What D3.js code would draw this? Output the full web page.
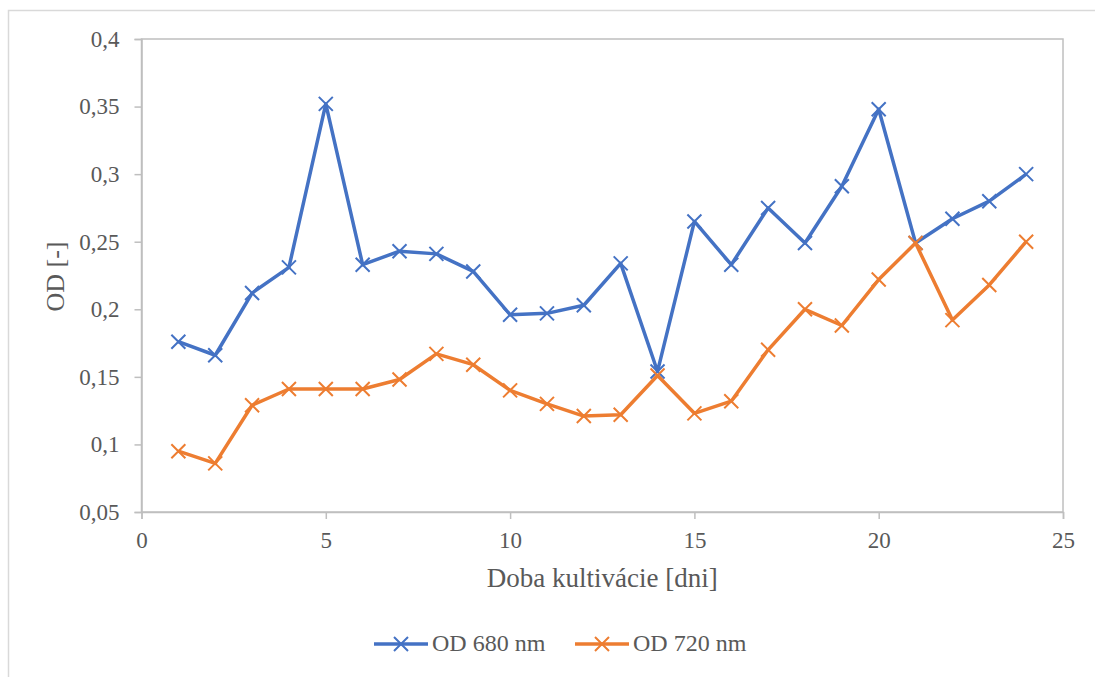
<!DOCTYPE html>
<html>
<head>
<meta charset="utf-8">
<script src="https://cdn.jsdelivr.net/npm/d3@7"></script>
<style>
  body { margin: 0; background: #fff; }
  svg text { fill: #595959; }
</style>
</head>
<body>
<div id="container"></div>
<script>
/* DATA */
const days = d3.range(1, 25)
const od680 = [0.176, 0.166, 0.212, 0.231, 0.352, 0.233, 0.243, 0.241, 0.228, 0.196, 0.197, 0.203,
  0.234, 0.154, 0.265, 0.233, 0.275, 0.249, 0.291, 0.348, 0.249, 0.267, 0.280, 0.300]
const od720 = [0.095, 0.086, 0.129, 0.141, 0.141, 0.141, 0.148, 0.167, 0.159, 0.140, 0.130, 0.121,
  0.122, 0.151, 0.123, 0.132, 0.170, 0.200, 0.188, 0.222, 0.249, 0.192, 0.218, 0.250]
const seriesNames = ["OD 680 nm", "OD 720 nm"]
const xTicks = [0, 5, 10, 15, 20, 25]
const yTicks = [0.05, 0.1, 0.15, 0.2, 0.25, 0.3, 0.35, 0.4]

/* CONSTANTS */
const width = 1095, height = 677
const margin = { left: 141.5, top: 39, right: 32, bottom: 165 }
const colors = ["#4472C4", "#ED7D31"]
const axisColor = "#bfbfbf"
const font = "'Liberation Serif', 'Times New Roman', Times, serif"

const series = seriesNames.map((name, i) => ({
  name,
  color: colors[i],
  values: days.map((d, j) => ({ day: d, od: [od680, od720][i][j] }))
}))

const svg = d3.select("#container")
  .append("svg")
  .attr("width", width)
  .attr("height", height)
  .attr("font-family", font)

// chart frame
svg.append("rect")
  .attr("x", 8.5).attr("y", 10.5)
  .attr("width", 1100).attr("height", 700)
  .attr("fill", "none").attr("stroke", "#d9d9d9").attr("stroke-width", 1.5)

// SCALES
const xScale = d3.scaleLinear()
  .domain([0, 25])
  .range([margin.left, width - margin.right])

const yScale = d3.scaleLinear()
  .domain([0.05, 0.4])
  .range([height - margin.bottom, margin.top])

const fmt = d => String(d).replace(".", ",")

// plot box
svg.append("rect")
  .attr("x", xScale(0)).attr("y", yScale(0.4))
  .attr("width", xScale(25) - xScale(0))
  .attr("height", yScale(0.05) - yScale(0.4))
  .attr("fill", "none").attr("stroke", axisColor).attr("stroke-width", 1.5)

// AXES
const xAxis = d3.axisBottom(xScale).tickValues(xTicks).tickFormat(fmt).tickSize(7).tickPadding(13)
const yAxis = d3.axisLeft(yScale).tickValues(yTicks).tickFormat(fmt).tickSize(7).tickPadding(15)

const gx = svg.append("g")
  .attr("transform", `translate(0,${yScale(0.05)})`)
  .call(xAxis)
const gy = svg.append("g")
  .attr("transform", `translate(${xScale(0)},0)`)
  .call(yAxis)

;[gx, gy].forEach(g => {
  g.attr("font-family", font).attr("font-size", 23)
  g.select(".domain").attr("stroke", axisColor).attr("stroke-width", 1.5)
  g.selectAll(".tick line").attr("stroke", axisColor).attr("stroke-width", 1.5)
  g.selectAll(".tick text").attr("fill", "#595959")
})

// axis titles
svg.append("text")
  .attr("x", (xScale(0) + xScale(25)) / 2)
  .attr("y", 587)
  .attr("text-anchor", "middle")
  .attr("font-size", 27)
  .text("Doba kultivácie [dni]")

svg.append("text")
  .attr("transform", `translate(64,${(yScale(0.05) + yScale(0.4)) / 2 + 1}) rotate(-90)`)
  .attr("text-anchor", "middle")
  .attr("font-size", 26)
  .text("OD [-]")

// LINES
const lineGen = d3.line()
  .x(d => xScale(d.day))
  .y(d => yScale(d.od))

const crossPath = s => `M${-s},${-s}L${s},${s}M${-s},${s}L${s},${-s}`

const groups = svg.selectAll(".series")
  .data(series)
  .join("g")
  .attr("class", "series")

groups.append("path")
  .attr("d", d => lineGen(d.values))
  .attr("fill", "none")
  .attr("stroke", d => d.color)
  .attr("stroke-width", 3.5)
  .attr("stroke-linejoin", "round")

groups.each(function (s) {
  d3.select(this).selectAll(".mark")
    .data(s.values)
    .join("path")
    .attr("class", "mark")
    .attr("transform", d => `translate(${xScale(d.day)},${yScale(d.od)})`)
    .attr("d", crossPath(7))
    .attr("stroke", s.color)
    .attr("stroke-width", 2)
})

// LEGEND
const legendX = [374, 575]
const legend = svg.selectAll(".legend")
  .data(series)
  .join("g")
  .attr("class", "legend")
  .attr("transform", (d, i) => `translate(${legendX[i]},644)`)

legend.append("line")
  .attr("x1", 0).attr("x2", 54)
  .attr("stroke", d => d.color).attr("stroke-width", 3.5)
legend.append("path")
  .attr("transform", "translate(27,0)")
  .attr("d", crossPath(7))
  .attr("stroke", d => d.color).attr("stroke-width", 2)
legend.append("text")
  .attr("x", 58).attr("y", 7)
  .attr("font-size", 24)
  .text(d => d.name)
</script>
</body>
</html>
